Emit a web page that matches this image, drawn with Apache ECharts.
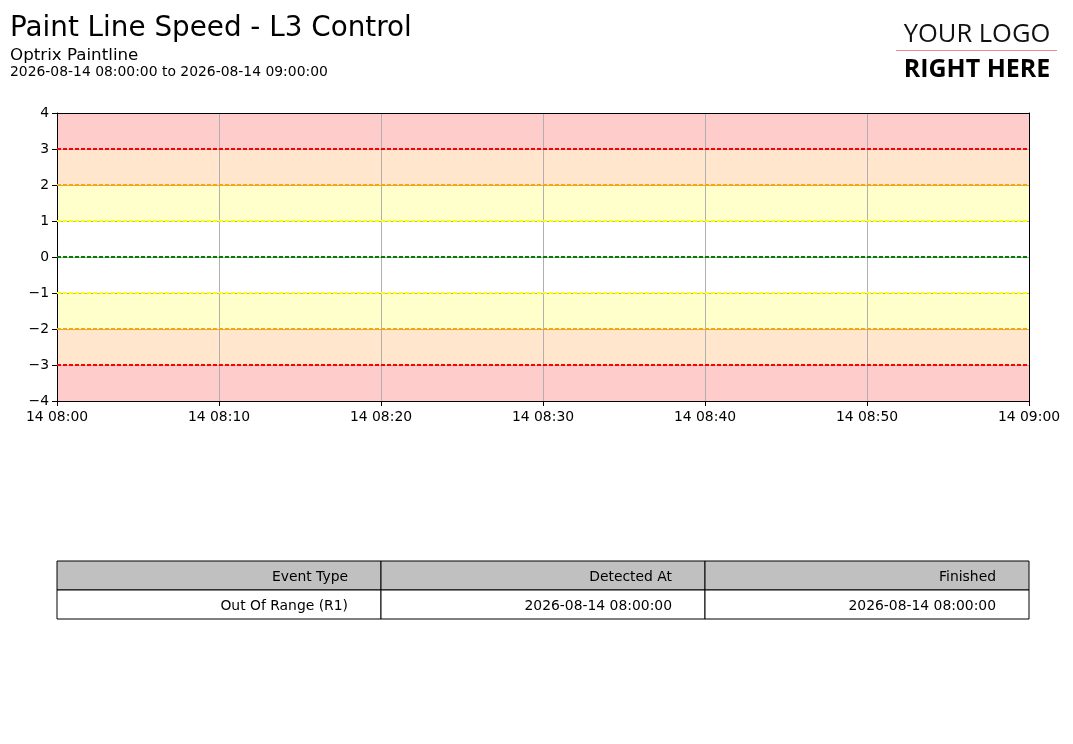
<!DOCTYPE html>
<html>
<head>
<meta charset="utf-8">
<title>Paint Line Speed - L3 Control</title>
<script src="https://cdn.jsdelivr.net/npm/echarts@6/dist/echarts.min.js"></script>
<style>
  html, body { margin: 0; padding: 0; background: #fff; }
  #chart { width: 1073px; height: 744px; }
</style>
</head>
<body>
<div id="chart"></div>
<script>
// time window of the report
var timeStart = "2026-08-14T08:00:00";
var timeEnd = "2026-08-14T09:00:00";
var tickMinutes = 10;

// y axis
var yMin = -4;
var yMax = 4;
var yStep = 1;

// coloured bands [from, to, colour]
var bandFrom = [3, 2, 1, -2, -3, -4];
var bandTo = [4, 3, 2, -1, -2, -3];
var bandColors = ["#ffcccc", "#ffe6cc", "#ffffcc", "#ffffcc", "#ffe6cc", "#ffcccc"];

// dashed limit lines
var limitValues = [3, 2, 1, 0, -1, -2, -3];
var limitColors = ["#ff0000", "#ffa500", "#ffff00", "#008000", "#ffff00", "#ffa500", "#ff0000"];

// event table
var tableHeaders = ["Event Type", "Detected At", "Finished"];
var tableRows = [["Out Of Range (R1)", "2026-08-14 08:00:00", "2026-08-14 08:00:00"]];

var FONT = "DejaVu Sans";
var FS = 13.9;
var myChart = echarts.init(document.getElementById("chart"), null, { renderer: "canvas" });

var markAreaData = bandFrom.map(function (f, i) {
  return [{ yAxis: f, itemStyle: { color: bandColors[i] } }, { yAxis: bandTo[i] }];
});
var markLineData = limitValues.map(function (v, i) {
  return { yAxis: v, lineStyle: { color: limitColors[i] } };
});

// table graphics
var tLeft = 57, tTop = 561, colW = 324, rowH = 29;
var tableGraphics = [];
function addRow(cells, rowIndex, fill) {
  cells.forEach(function (txt, c) {
    var x = tLeft + c * colW;
    var y = tTop + rowIndex * rowH;
    tableGraphics.push({
      type: "rect",
      shape: { x: x, y: y, width: colW, height: rowH },
      style: { fill: fill, stroke: "#000", lineWidth: 1 },
      z: 10
    });
    tableGraphics.push({
      type: "text",
      x: x + colW - 33,
      y: y + rowH / 2 + 1.5,
      style: { text: txt, fill: "#000", font: FS + "px '" + FONT + "'", align: "right", verticalAlign: "middle" },
      z: 11
    });
  });
}
addRow(tableHeaders, 0, "#c0c0c0");
tableRows.forEach(function (r, i) { addRow(r, i + 1, "#ffffff"); });

var tMin = new Date(timeStart).getTime();
var tMax = new Date(timeEnd).getTime();
var frameAxis = {
  axisLine: { show: true, onZero: false, lineStyle: { color: "#000", width: 1 } },
  axisTick: { show: false },
  axisLabel: { show: false },
  splitLine: { show: false }
};

myChart.setOption({
  animation: false,
  textStyle: { fontFamily: FONT },
  grid: { left: 57, right: 44, top: 113, bottom: 343 },
  xAxis: [
    {
      type: "value",
      z: 3,
      min: tMin, max: tMax,
      interval: tickMinutes * 60 * 1000,
      axisLine: { show: true, onZero: false, lineStyle: { color: "#000", width: 1 } },
      axisTick: { show: true, length: 5, lineStyle: { color: "#000" } },
      axisLabel: {
        color: "#000", fontSize: FS, fontFamily: FONT, margin: 9,
        formatter: function (v) { return echarts.time.format(v, "{dd} {HH}:{mm}", false); }
      },
      splitLine: { show: true, lineStyle: { color: "#b0b0b0", width: 1 } }
    },
    Object.assign({ type: "value", position: "top", z: 4, min: tMin, max: tMax }, frameAxis)
  ],
  yAxis: [
    {
      type: "value",
      z: 3,
      min: yMin, max: yMax, interval: yStep,
      axisLine: { show: true, onZero: false, lineStyle: { color: "#000", width: 1 } },
      axisTick: { show: true, length: 5, lineStyle: { color: "#000" } },
      axisLabel: {
        color: "#000", fontSize: FS, fontFamily: FONT, margin: 8,
        formatter: function (v) { return String(v).replace("-", "\u2212"); }
      },
      splitLine: { show: true, lineStyle: { color: "#b0b0b0", width: 1 } }
    },
    Object.assign({ type: "value", position: "right", z: 4, min: yMin, max: yMax }, frameAxis)
  ],
  series: [
    {
      type: "line",
      data: [],
      silent: true,
      markArea: { silent: true, z: 1, data: markAreaData },
      markLine: {
        silent: true,
        symbol: ["none", "none"],
        label: { show: false },
        lineStyle: { type: [4, 2], width: 2 },
        data: markLineData
      }
    }
  ],
  graphic: [
    {
      type: "text", x: 10, y: 29,
      style: { text: "Paint Line Speed - L3 Control", fill: "#000", font: "27.8px '" + FONT + "'", verticalAlign: "middle" }
    },
    {
      type: "text", x: 10, y: 56,
      style: { text: "Optrix Paintline", fill: "#000", font: "16.7px '" + FONT + "'", verticalAlign: "middle" }
    },
    {
      type: "text", x: 10, y: 72.5,
      style: { text: timeStart.replace("T", " ") + " to " + timeEnd.replace("T", " "), fill: "#000", font: FS + "px '" + FONT + "'", verticalAlign: "middle" }
    },
    {
      type: "text", x: 977, y: 35,
      style: { text: "YOUR LOGO", fill: "#111", font: "25.5px 'Open Sans'", align: "center", verticalAlign: "middle" }
    },
    {
      type: "line",
      shape: { x1: 896, y1: 50.5, x2: 1057, y2: 50.5 },
      style: { stroke: "#f08a8a", lineWidth: 1 }
    },
    {
      type: "text", x: 977, y: 70,
      style: { text: "RIGHT HERE", fill: "#000", font: "bold 25px 'Open Sans'", align: "center", verticalAlign: "middle" }
    }
  ].concat(tableGraphics)
});
</script>
</body>
</html>
